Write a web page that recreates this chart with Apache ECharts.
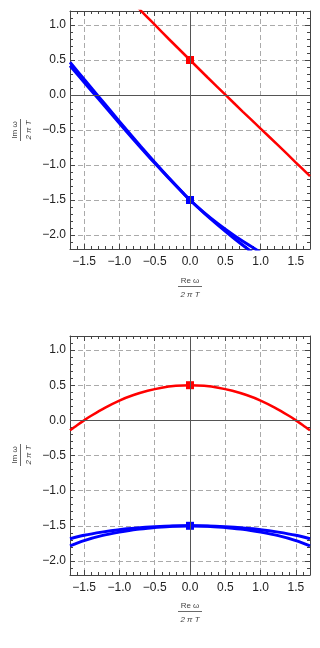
<!DOCTYPE html>
<html>
<head>
<meta charset="utf-8">
<script src="https://cdn.jsdelivr.net/npm/echarts@6/dist/echarts.min.js"></script>
<style>
  html, body { margin: 0; padding: 0; background: #fff; }
  #chart { width: 320px; height: 648px; }
</style>
</head>
<body>
<div id="chart"></div>
<script>
// axis ranges and ticks
var xMin = -1.7, xMax = 1.7;
var yMin = -2.2, yMax = 1.2;
var xTicks = [-1.5, -1, -0.5, 0, 0.5, 1, 1.5];
var yTicks = [-2, -1.5, -1, -0.5, 0, 0.5, 1];

// upper panel
var topRedX = [-0.8, -0.7, -0.5, -0.3, -0.1, 0, 0.25, 0.5, 0.75, 1.0, 1.25, 1.5, 1.7];
var topRedY = [1.32, 1.21, 1.005, 0.80, 0.60, 0.5, 0.25, 0.005, -0.24, -0.48, -0.72, -0.965, -1.16];
var topBlueX = [-1.7, -1.5, -1.3, -1.1, -0.9, -0.7, -0.5, -0.3, -0.1, 0, 0.2, 0.4, 0.6, 0.8, 1.0];
var topBlueAY = [0.417, 0.183, -0.052, -0.287, -0.520, -0.749, -0.973, -1.190, -1.399, -1.5, -1.688, -1.862, -2.028, -2.186, -2.339];
var topBlueBY = [0.467, 0.225, -0.016, -0.257, -0.496, -0.731, -0.959, -1.182, -1.397, -1.5, -1.680, -1.842, -1.988, -2.122, -2.249];

// lower panel
var botRedX = [-1.7, -1.6, -1.5, -1.4, -1.2, -1.0, -0.8, -0.6, -0.4, -0.2, 0, 0.2, 0.4, 0.6, 0.8, 1.0, 1.2, 1.4, 1.5, 1.6, 1.7];
var botRedY = [-0.142, -0.069, 0.0, 0.065, 0.182, 0.282, 0.360, 0.421, 0.465, 0.491, 0.5, 0.491, 0.465, 0.421, 0.360, 0.282, 0.182, 0.065, 0.0, -0.069, -0.142];
var botBlueX = [-1.7, -1.5, -1.25, -1, -0.75, -0.5, -0.25, 0, 0.25, 0.5, 0.75, 1, 1.25, 1.5, 1.7];
var botBlueUpY = [-1.685, -1.635, -1.59, -1.555, -1.532, -1.515, -1.503, -1.5, -1.503, -1.515, -1.532, -1.555, -1.59, -1.635, -1.685];
var botBlueLowY = [-1.785, -1.71, -1.64, -1.59, -1.55, -1.525, -1.505, -1.5, -1.505, -1.525, -1.55, -1.59, -1.64, -1.71, -1.785];

// square markers
var redMark = [0, 0.5];
var blueMark = [0, -1.5];

var FRAME = '#444';
var FONT = 'Liberation Sans, Arial, sans-serif';

function pairs(xs, ys) {
    var out = [];
    for (var i = 0; i < xs.length; i++) out.push([xs[i], ys[i]]);
    return out;
}

function fmt(v) {
    return v.toFixed(1).replace('-', '\u2212');
}

// four axes per side: frame+minor ticks, opposite frame, major ticks+grid, opposite major ticks
function axesFor(g, isX) {
    var min = isX ? xMin : yMin, max = isX ? xMax : yMax;
    var ticks = isX ? xTicks : yTicks;
    var pos = isX ? 'bottom' : 'left';
    var opp = isX ? 'top' : 'right';
    var base = function (p) {
        return {
            gridIndex: g, type: 'value', min: min, max: max, position: p,
            axisLine: { show: false, onZero: false },
            axisTick: { show: false },
            axisLabel: { show: false },
            splitLine: { show: false }
        };
    };
    var a = base(pos);
    a.interval = 0.1;
    a.axisLine = { show: true, onZero: false, lineStyle: { color: FRAME, width: 1 } };
    a.axisTick = { show: true, inside: true, length: 3, lineStyle: { color: FRAME } };
    a.axisLabel = { show: true, customValues: ticks, formatter: fmt, fontSize: 12, color: '#222',
        fontFamily: FONT, margin: isX ? 7 : 4 };
    var b = base(opp);
    b.interval = 0.1;
    b.axisLine = { show: true, onZero: false, lineStyle: { color: FRAME, width: 1 } };
    b.axisTick = { show: true, inside: true, length: 3, lineStyle: { color: FRAME } };
    var c = base(pos);
    c.axisTick = { show: true, inside: true, length: 5, customValues: ticks, lineStyle: { color: FRAME } };
    c.splitLine = { show: true, lineStyle: { color: '#aaa', width: 1, type: [5, 3] } };
    var d = base(opp);
    d.axisTick = { show: true, inside: true, length: 5, customValues: ticks, lineStyle: { color: FRAME } };
    return [a, b, c, d];
}

function line(g, xs, ys, color, w) {
    return {
        type: 'line', xAxisIndex: g * 4, yAxisIndex: g * 4, data: pairs(xs, ys),
        showSymbol: false, smooth: 0.3, z: 3,
        lineStyle: { color: color, width: w }, silent: true
    };
}

function zeroLines(g) {
    return {
        type: 'scatter', xAxisIndex: g * 4, yAxisIndex: g * 4, data: [[0, 0]], symbolSize: 0, z: 2,
        silent: true,
        markLine: {
            silent: true, symbol: 'none', label: { show: false },
            lineStyle: { color: '#555', width: 1, type: 'solid' },
            data: [{ xAxis: 0 }, { yAxis: 0 }]
        }
    };
}

function marker(g, pt, color) {
    return {
        type: 'scatter', xAxisIndex: g * 4, yAxisIndex: g * 4, data: [pt],
        symbol: 'rect', symbolSize: 8, z: 4, silent: true,
        itemStyle: { color: color, opacity: 1 }
    };
}

function fracLabel(cx, cy, num, rot, barW) {
    return {
        type: 'group', x: cx, y: cy, rotation: rot, silent: true,
        children: [
            { type: 'text', x: 0, y: -1, style: { text: num, fontSize: 8, fontFamily: FONT, fill: '#444',
                align: 'center', verticalAlign: 'bottom' } },
            { type: 'line', shape: { x1: -barW / 2, y1: 0.5, x2: barW / 2, y2: 0.5 },
                style: { stroke: '#444', lineWidth: 0.8 } },
            { type: 'text', x: 0, y: 5, style: { text: '2 \u03c0 T', fontSize: 8, fontFamily: FONT, fill: '#444',
                fontStyle: 'italic', align: 'center', verticalAlign: 'top' } }
        ]
    };
}

var option = {
    animation: false,
    grid: [
        { left: 70, right: 10, top: 11, height: 238 },
        { left: 70, right: 10, top: 336, height: 239 }
    ],
    xAxis: axesFor(0, true).concat(axesFor(1, true)),
    yAxis: axesFor(0, false).concat(axesFor(1, false)),
    graphic: [
        fracLabel(190, 286, 'Re \u03c9', 0, 24),
        fracLabel(190, 611, 'Re \u03c9', 0, 24),
        fracLabel(20, 130, 'Im \u03c9', Math.PI / 2, 22),
        fracLabel(20, 455, 'Im \u03c9', Math.PI / 2, 22)
    ],
    series: [
        zeroLines(0),
        line(0, topRedX, topRedY, '#ff0000', 2.5),
        line(0, topBlueX, topBlueAY, '#0000ff', 3),
        line(0, topBlueX, topBlueBY, '#0000ff', 3),
        marker(0, redMark, '#ff0000'),
        marker(0, blueMark, '#0000ff'),
        zeroLines(1),
        line(1, botRedX, botRedY, '#ff0000', 2.5),
        line(1, botBlueX, botBlueUpY, '#0000ff', 3),
        line(1, botBlueX, botBlueLowY, '#0000ff', 3),
        marker(1, redMark, '#ff0000'),
        marker(1, blueMark, '#0000ff')
    ]
};

var myChart = echarts.init(document.getElementById('chart'), null, { renderer: 'canvas' });
myChart.setOption(option);
</script>
</body>
</html>
